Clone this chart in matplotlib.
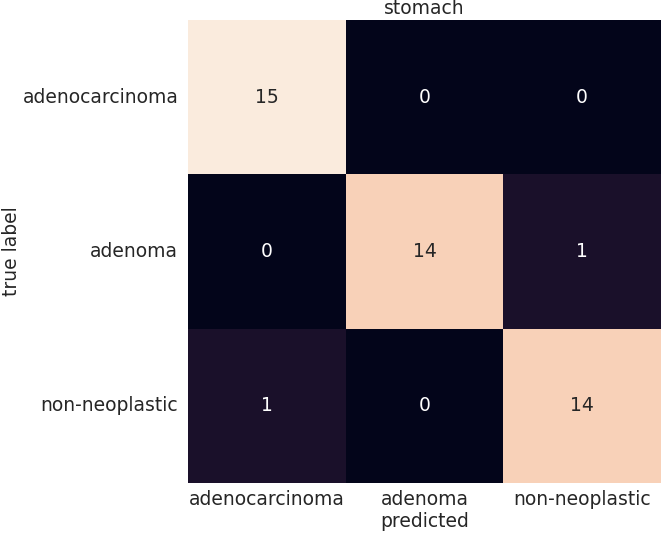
import numpy as np
import matplotlib
matplotlib.use("Agg")
import matplotlib.pyplot as plt
import seaborn as sns

classes = ["adenocarcinoma", "adenoma", "non-neoplastic"]
counts = np.array([[15, 0, 0],
                   [0, 14, 1],
                   [1, 0, 14]])

sns.set_style("white")
plt.rcParams["font.family"] = ["DejaVu Sans"]

fig = plt.figure(figsize=(6.63, 5.33), dpi=100)
ax = fig.add_axes([0.2836, 0.0938, 0.7134, 0.8687])

sns.heatmap(counts, annot=True, fmt="d", cbar=False, square=False,
            xticklabels=classes, yticklabels=classes,
            annot_kws={"size": 13.5}, ax=ax)

ax.set_title("stomach", fontsize=13.5, pad=4)
ax.set_xlabel("predicted", fontsize=13.5, labelpad=2)
ax.set_ylabel("true label", fontsize=13.5)
ax.yaxis.set_label_coords(-0.353, 0.5)
ax.tick_params(axis="y", labelsize=13.5, length=0, pad=7)
ax.tick_params(axis="x", labelsize=13.5, length=0, pad=5)
plt.setp(ax.get_yticklabels(), rotation=0)

fig.savefig("out.png", dpi=100)
